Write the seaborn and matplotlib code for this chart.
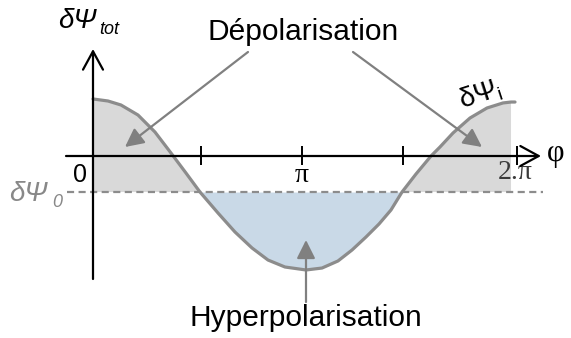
import numpy as np
import pandas as pd
import matplotlib
matplotlib.use("Agg")
import matplotlib.pyplot as plt
import seaborn as sns

# ---- data ----
phi = [0.000, 0.226, 0.421, 0.677, 0.932, 1.173, 1.398, 1.609, 1.880,
       2.135, 2.391, 2.632, 2.887, 3.203, 3.444, 3.684, 3.895, 4.105, 4.301,
       4.481, 4.647, 4.857, 5.083, 5.218, 5.414, 5.669, 5.925, 6.165, 6.286, 6.346]
dpsi_i = [0.671, 0.647, 0.600, 0.482, 0.282, 0.035, -0.200, -0.424, -0.671,
          -0.894, -1.082, -1.224, -1.306, -1.341, -1.318, -1.235, -1.106, -0.953, -0.800,
          -0.635, -0.424, -0.212, 0.000, 0.106, 0.271, 0.447, 0.565, 0.624, 0.635, 0.635]
dpsi_0 = -0.424
tick_pos = [1.624, 3.143, 4.662, 6.376]
fill_end = 6.29

sns.set_theme(style="white")
plt.rcParams['font.family'] = ['Liberation Sans', 'DejaVu Sans']
plt.rcParams['text.color'] = 'black'
plt.rcParams['mathtext.fontset'] = 'custom'
plt.rcParams['mathtext.rm'] = 'Liberation Sans'
plt.rcParams['mathtext.it'] = 'Liberation Sans:italic'

W, H = 571, 338
fig = plt.figure(figsize=(W / 100, H / 100), dpi=100)
ax = fig.add_axes([0, 0, 1, 1])
ax.set_xlim(-93 / 66.5, (W - 93) / 66.5)
ax.set_ylim((156 - H) / 85, 156 / 85)
ax.axis("off")

def fp(x, y):
    return (x / W, 1 - y / H)

df = pd.DataFrame({"phi": phi, "psi": dpsi_i})
dfill = df[df.phi <= fill_end]
x = dfill.phi.values
y = dfill.psi.values
ax.fill_between(x, y, dpsi_0, where=y >= dpsi_0, interpolate=True,
                color="#d9d9d9", lw=0, zorder=1)
ax.fill_between(x, y, dpsi_0, where=y <= dpsi_0, interpolate=True,
                color="#c9d9e7", lw=0, zorder=1)

# dashed reference line
ax.plot([-0.391, 6.767], [dpsi_0, dpsi_0], color="#8c8c8c", lw=1.6,
        ls=(0, (3.2, 2.0)), zorder=2)

# curve
sns.lineplot(data=df, x="phi", y="psi", sort=False, ax=ax, color="#8c8c8c",
             lw=2.3, zorder=4, legend=False)

# axes with arrows
axkw = dict(arrowstyle="->,head_length=1.1,head_width=0.6", color="black",
            lw=1.6, shrinkA=0, shrinkB=0, mutation_scale=12)
ax.annotate("", xy=fp(541, 156), xytext=fp(66, 156), xycoords="figure fraction",
            textcoords="figure fraction", arrowprops=axkw, zorder=5)
ax.annotate("", xy=fp(93, 49), xytext=fp(93, 279), xycoords="figure fraction",
            textcoords="figure fraction", arrowprops=axkw, zorder=5)
ax.vlines(tick_pos, -0.106, 0.118, color="black", lw=1.4, zorder=5)

T = fig.transFigure
# tick labels
ax.text(80 / W, 1 - 175 / H, "0", transform=T, fontsize=18, ha="center", va="center")
ax.text(302 / W, 1 - 175 / H, "π", transform=T, fontsize=20,
        ha="center", va="center", family="Liberation Serif")
ax.text(515 / W, 1 - 173 / H, "2.π", transform=T, fontsize=20,
        ha="center", va="center", family="Liberation Serif", color="#3a3a3a")
ax.text(556 / W, 1 - 154 / H, "φ", transform=T, fontsize=22,
        ha="center", va="center", family="Liberation Serif")

# Greek labels with italic subscripts
def sym(x0, yb, main, sub, size, subsize, dy, color):
    ax.text(x0 / W, 1 - yb / H, main, transform=T, fontsize=size, style="italic",
            ha="left", va="baseline", color=color)
    ax.text((x0 + 0.0) / W, 1 - yb / H, "", transform=T)
    return None

ax.text(58 / W, 1 - 28 / H, "δΨ", transform=T, fontsize=20, style="italic",
        ha="left", va="baseline")
ax.text(99 / W, 1 - 34 / H, "tot", transform=T, fontsize=13, style="italic",
        ha="left", va="baseline")
ax.text(9 / W, 1 - 201 / H, "δΨ", transform=T, fontsize=20, style="italic",
        ha="left", va="baseline", color="#888888")
ax.text(52 / W, 1 - 207 / H, "0", transform=T, fontsize=13, style="italic",
        ha="left", va="baseline", color="#888888")
ax.text(480 / W, 1 - 95 / H, r"δΨ$_{\mathrm{i}}$", transform=T,
        fontsize=20, ha="center", va="center", rotation=18)

ax.text(303 / W, 1 - 40 / H, "Dépolarisation", transform=T,
        fontsize=21.5, ha="center", va="baseline")
ax.text(306 / W, 1 - 326 / H, "Hyperpolarisation", transform=T,
        fontsize=21.5, ha="center", va="baseline")

arkw = dict(arrowstyle="-|>,head_length=0.8,head_width=0.4", color="#808080",
            lw=1.6, shrinkA=0, shrinkB=0, mutation_scale=14)
for tail, head in [((248, 52), (125, 147)), ((353, 52), (482, 147)),
                   ((306, 302), (306, 240))]:
    ax.annotate("", xy=fp(*head), xytext=fp(*tail), xycoords="figure fraction",
                textcoords="figure fraction", arrowprops=arkw, zorder=6)

fig.savefig("out.png", dpi=100)
